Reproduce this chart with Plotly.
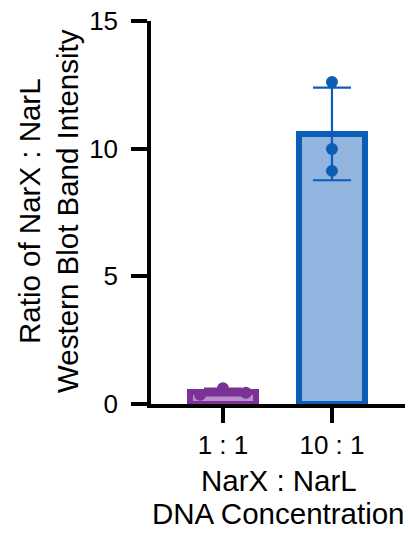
import numpy as np
import plotly.graph_objects as go

categories = ["1 : 1", "10 : 1"]
replicates_1to1 = [0.36, 0.62, 0.44]
replicates_10to1 = [12.61, 9.99, 9.13]
jitter_1to1 = [-0.21, 0.0, 0.21]
jitter_10to1 = [0.0, 0.0, 0.0]
y_ticks = [0, 5, 10, 15]

edge_colors = ["#7B3294", "#0A5EB5"]
fill_colors = ["#B98FCB", "#92B5E0"]

groups = [replicates_1to1, replicates_10to1]
jitters = [jitter_1to1, jitter_10to1]
means = [float(np.mean(g)) for g in groups]
sds = [float(np.std(g, ddof=1)) for g in groups]

W, H = 412, 546
ML, MR, MT, MB = 151, 7, 21, 142
PW, PH = W - ML - MR, H - MT - MB

FONT = "Liberation Sans, Arial, sans-serif"

fig = go.Figure()
for i in range(len(categories)):
    fig.add_trace(go.Bar(
        x=[i], y=[means[i]], width=0.6,
        marker=dict(color=fill_colors[i], line=dict(color=edge_colors[i], width=6)),
        error_y=dict(type="data", array=[sds[i]], visible=True,
                     color=edge_colors[i], thickness=2.2, width=19),
        showlegend=False, hoverinfo="skip",
    ))
for i in range(len(categories)):
    fig.add_trace(go.Scatter(
        x=[i + j for j in jitters[i]], y=groups[i], mode="markers",
        marker=dict(color=edge_colors[i], size=12),
        cliponaxis=False, showlegend=False, hoverinfo="skip",
    ))

fig.update_layout(
    width=W, height=H,
    margin=dict(l=ML, r=MR, t=MT, b=MB, pad=0),
    paper_bgcolor="white", plot_bgcolor="white",
    font=dict(family=FONT, color="black"),
    bargap=0,
)
fig.update_xaxes(
    range=[-0.66, 1.67], tickvals=list(range(len(categories))), ticktext=categories,
    showline=True, linecolor="black", linewidth=3.5,
    ticks="outside", ticklen=15, tickwidth=3.5, tickcolor="black",
    tickfont=dict(size=26, family=FONT), showgrid=False, zeroline=False,
)
fig.update_yaxes(
    range=[0, 15], tickvals=y_ticks,
    showline=True, linecolor="black", linewidth=3.5,
    ticks="outside", ticklen=16, tickwidth=3.5, tickcolor="black",
    ticklabelstandoff=8,
    tickfont=dict(size=26, family=FONT), showgrid=False, zeroline=False,
)

def px_x(px):
    return (px - ML) / PW

def px_y(py):
    return 1 - (py - MT) / PH

title_font = dict(size=29.5, family=FONT, color="black")
annots = [
    dict(text="Ratio of NarX : NarL", x=px_x(29), y=px_y(211), textangle=-90),
    dict(text="Western Blot Band Intensity", x=px_x(67), y=px_y(211), textangle=-90),
    dict(text="NarX : NarL", x=px_x(279), y=px_y(480), textangle=0),
    dict(text="DNA Concentration", x=px_x(278), y=px_y(513), textangle=0),
]
for a in annots:
    fig.add_annotation(xref="paper", yref="paper", xanchor="center", yanchor="middle",
                       showarrow=False, font=title_font, **a)

fig.write_html("out.html")
